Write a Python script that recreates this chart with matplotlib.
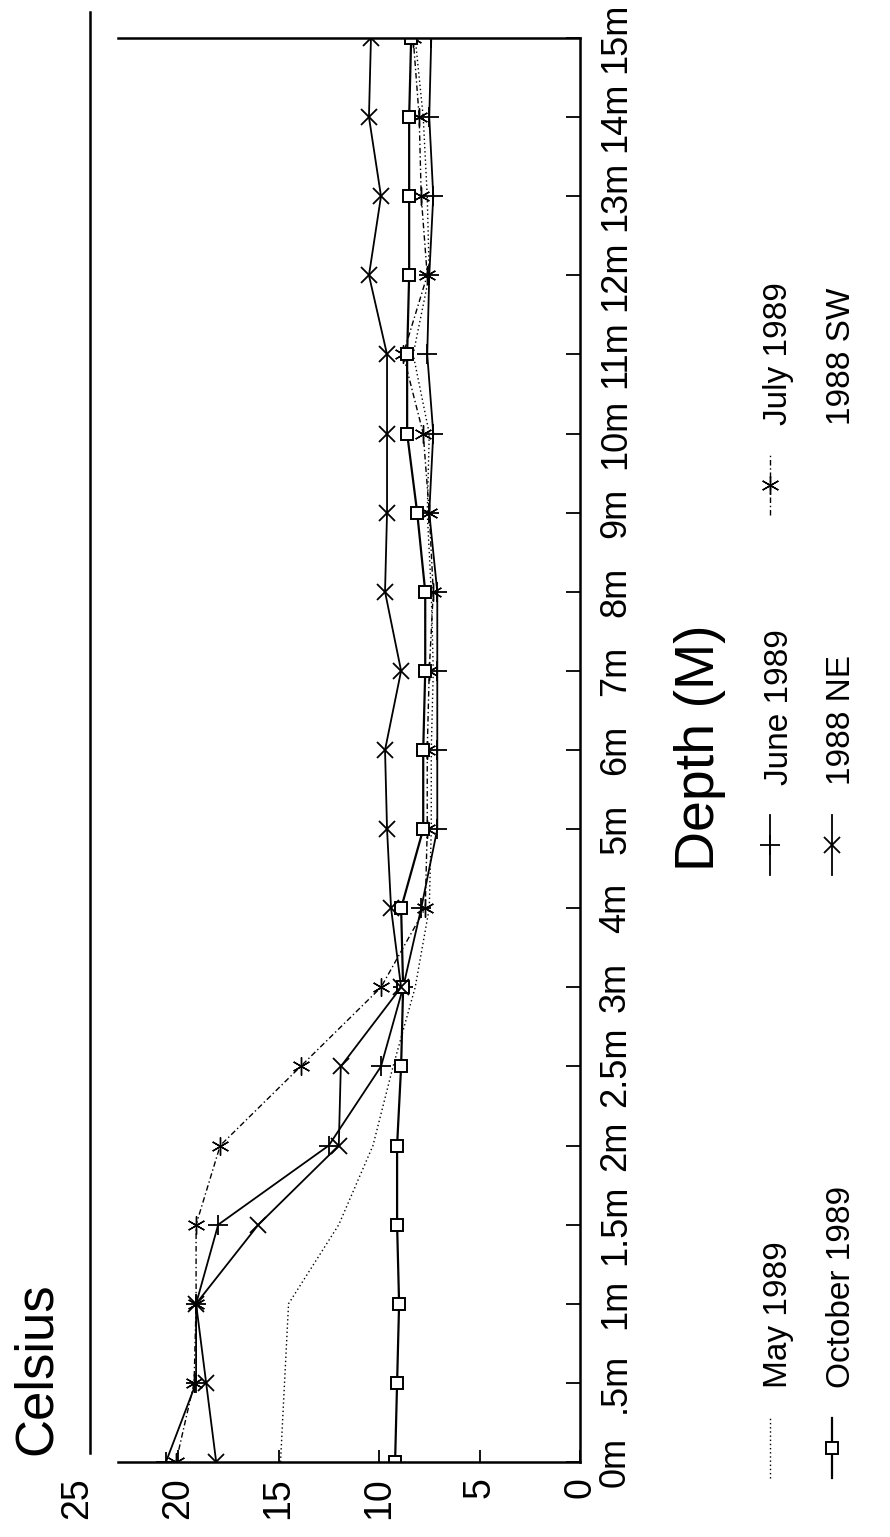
import numpy as np
import matplotlib
matplotlib.use('Agg')
import matplotlib.pyplot as plt
from matplotlib.lines import Line2D

plt.rcParams['font.family'] = ['Liberation Sans', 'DejaVu Sans']

# depth categories (x axis of the original chart) and temperature series
depths = ['0m', '.5m', '1m', '1.5m', '2m', '2.5m', '3m', '4m', '5m', '6m',
          '7m', '8m', '9m', '10m', '11m', '12m', '13m', '14m', '15m']
may_1989 = [14.9, 14.7, 14.5, 12.0, 10.3, 9.3, 8.2, 7.5, 7.4, 7.4,
            7.3, 7.4, 7.6, 7.5, 8.3, 7.5, 7.6, 7.8, 8.2]
june_1989 = [20.6, 19.1, 19.1, 18.0, 12.5, 9.9, 8.8, 7.9, 7.1, 7.1,
             7.1, 7.1, 7.5, 7.3, 7.6, 7.5, 7.3, 7.5, 7.4]
july_1989 = [20.1, 19.2, 19.1, 19.1, 17.9, 13.9, 9.9, 7.7, 7.6, 7.6,
             7.5, 7.3, 7.5, 7.8, 8.8, 7.6, 7.9, 8.0, 8.3]
october_1989 = [9.2, 9.1, 9.0, 9.1, 9.1, 8.9, 8.8, 8.9, 7.8, 7.8,
                7.7, 7.7, 8.1, 8.6, 8.6, 8.5, 8.5, 8.5, 8.4]
ne_1988 = [18.1, 18.6, 19.1, 16.0, 12.0, 11.9, 8.9, 9.4, 9.6, 9.7,
           8.9, 9.7, 9.6, 9.6, 9.6, 10.5, 9.9, 10.5, 10.4]
celsius_ticks = [0, 5, 10, 15, 20, 25]
legend_labels = ['May 1989', 'June 1989', 'July 1989',
                 'October 1989', '1988 NE', '1988 SW']

W, H = 890, 1537
fig = plt.figure(figsize=(W / 100, H / 100), dpi=100)

# the whole chart is printed rotated by 90 degrees:
# temperature runs right->left, depth runs bottom->top
x0, x25 = 580, 77.5
y_top, y_bot = 38, 1462
ax = fig.add_axes([x25 / W, (H - y_bot) / H, (x0 - x25) / W, (y_bot - y_top) / H])

pos = np.arange(len(depths))
asterisk = (6, 2, 0)
styles = [
    dict(ls=(0, (1, 2)), lw=1.0),
    dict(ls='-', lw=1.3, marker='+', ms=15, mew=1.3),
    dict(ls=(0, (4, 2, 1, 2)), lw=1.0, marker=asterisk, ms=13, mew=1.0),
    dict(ls='-', lw=1.6, marker='s', ms=9, mfc='white', mec='black', mew=1.4),
    dict(ls='-', lw=1.3, marker='x', ms=11, mew=1.3),
    None,   # 1988 SW: no line shows on the chart
]
series = [may_1989, june_1989, july_1989, october_1989, ne_1988]
for vals, st in zip(series, styles):
    ax.plot(vals, pos, color='black', **st)

ax.set_xlim(25, 0)
ax.set_ylim(0, len(depths) - 1)

ax.spines['left'].set_visible(False)
ax.spines['bottom'].set_bounds(0, 23)
ax.spines['top'].set_bounds(0, 23)
for s in ['bottom', 'top', 'right']:
    ax.spines[s].set_linewidth(1.8)
ax.axvline(24.4, ymin=0.006, ymax=1.018, color='black', lw=1.8, clip_on=False)

ax.set_xticks(celsius_ticks)
ax.set_xticklabels([str(t) for t in celsius_ticks])
ax.tick_params(axis='x', direction='in', length=9, width=1.3, pad=11,
               labelsize=27, labelrotation=90)
ax.xaxis.get_major_ticks()[-1].tick1line.set_visible(False)

ax.yaxis.tick_right()
ax.set_yticks(pos)
ax.set_yticklabels(depths)
ax.tick_params(axis='y', direction='in', length=10, width=1.3, pad=13,
               labelsize=26, labelrotation=90)
for lab in ax.get_yticklabels():
    lab.set_va('center')
    lab.set_ha('left')

# axis titles
fig.text(37 / W, (H - 1455) / H, 'Celsius', rotation=90, fontsize=38,
         ha='center', va='bottom')
fig.text(700 / W, (H - 748) / H, 'Depth (M)', rotation=90, fontsize=40,
         ha='center', va='center')

# legend, laid out by hand because it is rotated as well
row_x = [770, 770, 770, 832, 832, 832]
col_y = [1448, 845, 485, 1448, 845, 485]
for lab, st, lx, ly in zip(legend_labels, styles, row_x, col_y):
    if st is not None:
        line_st = {k: v for k, v in st.items() if k in ('ls', 'lw')}
        fig.add_artist(Line2D([lx / W, lx / W], [(H - ly - 30) / H, (H - ly + 30) / H],
                              transform=fig.transFigure, color='black', **line_st))
        if 'marker' in st:
            mk_st = {k: v for k, v in st.items() if k not in ('ls', 'lw')}
            fig.add_artist(Line2D([lx / W], [(H - ly) / H], transform=fig.transFigure,
                                  ls='none', color='black', **mk_st))
    fig.text((lx + 9) / W, (H - ly + 60) / H, lab, rotation=90, fontsize=24,
             ha='center', va='bottom')

fig.savefig('out.png', dpi=100)
